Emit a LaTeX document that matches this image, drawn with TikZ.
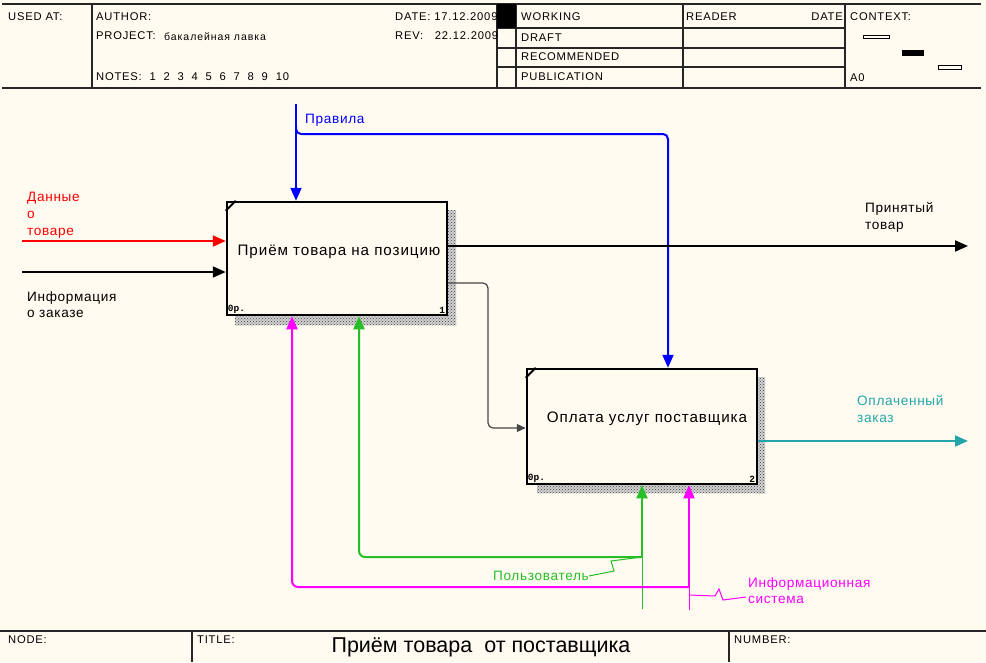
\documentclass[tikz,border=0pt]{standalone}
\usepackage{fontspec}
\setmainfont{Liberation Sans}
\newfontfamily\monofnt{Liberation Mono}
\usetikzlibrary{arrows.meta,patterns}
\definecolor{bg}{RGB}{255,251,240}
\definecolor{cblue}{RGB}{0,0,255}
\definecolor{cred}{RGB}{255,0,0}
\definecolor{cgreen}{RGB}{40,190,40}
\definecolor{cmag}{RGB}{255,0,255}
\definecolor{cteal}{RGB}{35,165,170}
\definecolor{cgray}{RGB}{70,70,70}
\tikzset{
  >={Triangle[length=13pt,width=11pt]},
  frameline/.style={line width=1.3pt, black!85},
  hdr/.style={font=\fontsize{11.2}{13}\selectfont\addfontfeature{LetterSpace=7}, inner sep=0pt, anchor=west},
  actbox/.style={draw, line width=2.5pt, fill=bg, inner sep=0pt},
  acttext/.style={font=\fontsize{15.2}{18}\selectfont\addfontfeature{LetterSpace=6}, inner sep=0pt},
  small/.style={font=\monofnt\fontsize{9.5}{10}\selectfont\bfseries, inner sep=1pt},
  shadow/.style={fill=black!18, postaction={pattern=crosshatch dots, pattern color=black!75}},
  arr/.style={line width=2pt},
  thinarr/.style={line width=1pt},
  lbl/.style={font=\fontsize{13.6}{16.8}\selectfont\addfontfeature{LetterSpace=5}, inner sep=0pt, align=left},
}
\begin{document}
\begin{tikzpicture}[x=1pt,y=-1pt]
\fill[bg] (0,0) rectangle (986,662);
\useasboundingbox (0,0) rectangle (986,662);

% ---------------- header ----------------
\draw[frameline] (2,4) -- (981,4);
\draw[line width=1.8pt, black!85] (2,88) -- (981,88);
\draw[frameline] (92,4) -- (92,88);
\foreach \x in {497,516,683,845} \draw[frameline] (\x,4) -- (\x,88);
\foreach \y in {28,48,67} \draw[frameline] (497,\y) -- (845,\y);

\node[hdr] (usedat) at (8,17) {USED AT:};
\node[hdr] (author) at (96,17) {AUTHOR:};
\node[hdr] (project) at (96,36) {PROJECT:};
\node[hdr, font=\fontsize{10.5}{12}\selectfont\addfontfeature{LetterSpace=9}] (projname) at (164,36.5) {бакалейная лавка};
\node[hdr] (notes) at (96,77) {NOTES:\ \ 1\ \ 2\ \ 3\ \ 4\ \ 5\ \ 6\ \ 7\ \ 8\ \ 9\ \ 10};
\node[hdr] (date) at (395,17) {DATE: 17.12.2009};
\node[hdr] (rev) at (395,36) {REV:\ \ \ 22.12.2009};
\fill[bg] (498,5) rectangle (515,87);
\foreach \y in {28,48,67} \draw[frameline] (497,\y) -- (516,\y);
\fill[black] (497,4) rectangle (516,28);
\node[hdr] (working) at (521,17) {WORKING};
\node[hdr] (draft) at (521,38) {DRAFT};
\node[hdr] (recom) at (521,57) {RECOMMENDED};
\node[hdr] (publ) at (521,77) {PUBLICATION};
\node[hdr] (reader) at (686,17) {READER};
\node[hdr, anchor=east] (rdate) at (843,17) {DATE};
\node[hdr] (context) at (850,17) {CONTEXT:};
\node[hdr] (a0) at (850,78) {A0};
\draw[line width=0.9pt, fill=bg] (863,35) rectangle (889,38.5);
\fill[black] (902,50) rectangle (924,56);
\draw[line width=0.9pt, fill=bg] (938,65) rectangle (961,69.5);

% ---------------- footer ----------------
\draw[line width=1.8pt, black!85] (0,631) -- (986,631);
\draw[frameline] (192,631) -- (192,662);
\draw[frameline] (729,631) -- (729,662);
\node[hdr] (node) at (8,640) {NODE:};
\node[hdr] (title) at (197,640) {TITLE:};
\node[hdr] (number) at (734,640) {NUMBER:};
\node[font=\fontsize{21.5}{24}\selectfont, inner sep=0pt] (ttl) at (481,647) {Приём товара~ от поставщика};

% ---------------- shadows ----------------
\fill[shadow] (447,210) rectangle (456,325);
\fill[shadow] (235,315) rectangle (456,325);
\fill[shadow] (757,377) rectangle (765,493);
\fill[shadow] (537,484) rectangle (765,493);

% ---------------- activity boxes ----------------
\node[actbox, minimum width=220pt, minimum height=113pt] (b1) at (337,258.5) {};
\node[actbox, minimum width=230pt, minimum height=115pt] (b2) at (642,426.5) {};
\node[acttext] (t1) at ([yshift=6.5pt,xshift=2pt]b1.center) {Приём товара на позицию};
\node[acttext] (t2) at ([yshift=7.5pt,xshift=5pt]b2.center) {Оплата услуг поставщика};
\node[small, anchor=south west] (c1) at ([shift={(1pt,1.5pt)}]b1.south west) {0р.};
\node[small, anchor=south east] (n1) at ([shift={(-2pt,1.5pt)}]b1.south east) {1};
\node[small, anchor=south west] (c2) at ([shift={(1pt,1.5pt)}]b2.south west) {0р.};
\node[small, anchor=south east] (n2) at ([shift={(-2pt,1.5pt)}]b2.south east) {2};
\draw[line width=1.8pt] ([yshift=-10pt]b1.north west) -- ([xshift=10pt]b1.north west);
\draw[line width=1.8pt] ([yshift=-10pt]b2.north west) -- ([xshift=10pt]b2.north west);

% ---------------- controls (blue) ----------------
\coordinate (prtop) at (296,104);
\coordinate (prbr) at (296,126);
\coordinate (prc) at (668,134);
\draw[arr, cblue, ->] (prtop) -- (prtop |- b1.north);
\draw[arr, cblue, ->, rounded corners=5pt] (prbr) |- (prc) -- (prc |- b2.north);
\node[lbl, text=cblue, anchor=west] (lpr) at (305,120) {Правила};

% ---------------- inputs ----------------
\coordinate (redin) at (22,241);
\coordinate (blkin) at (22,272);
\draw[arr, cred, ->] (redin) -- (redin -| b1.west);
\draw[arr, black, ->] (blkin) -- (blkin -| b1.west);
\node[lbl, text=cred, anchor=north west] (lred) at (27,192) {Данные\\о\\товаре};
\node[lbl, anchor=north west] (linf) at (27,291) {Информация\\о заказе};

% ---------------- outputs ----------------
\coordinate (out1) at (968,246);
\draw[arr, black, ->] (out1 -| b1.east) -- (out1);
\node[lbl, anchor=north west] (lout1) at (865,202) {Принятый\\товар};
\coordinate (out2) at (968,441);
\draw[arr, cteal, ->] (out2 -| b2.east) -- (out2);
\node[lbl, text=cteal, anchor=north west] (lout2) at (857,395) {Оплаченный\\заказ};

% box1 -> box2
\coordinate (mid1) at (488,283);
\coordinate (mid2) at (488,428);
\draw[line width=1.2pt, cgray, -{Triangle[length=9pt,width=8pt]}, rounded corners=5pt]
  (mid1 -| b1.east) -- (mid1) -- (mid2) -- (mid2 -| b2.west);

% ---------------- mechanisms ----------------
\coordinate (gj) at (642,557);
\coordinate (gbot) at (642,609);
\coordinate (gx) at (359,557);
\draw[thinarr, cgreen] (gbot) -- (gj);
\draw[arr, cgreen, ->] (gj) -- (gj |- b2.south);
\draw[arr, cgreen, ->, rounded corners=6pt] (gj) -- (gx) -- (gx |- b1.south);
\node[lbl, text=cgreen, anchor=east] (lusr) at (589,576) {Пользователь};
\draw[thinarr, cgreen] (lusr.east) -- (614,571) -- (611,561) -- (gj);

\coordinate (mj) at (689,587);
\coordinate (mbot) at (689,610);
\coordinate (mx) at (292,587);
\draw[thinarr, cmag] (mbot) -- (mj);
\draw[arr, cmag, ->] (mj) -- (mj |- b2.south);
\draw[arr, cmag, ->, rounded corners=6pt] (mj) -- (mx) -- (mx |- b1.south);
\node[lbl, text=cmag, anchor=north west] (lis) at (748,577) {Информационная\\система};
\coordinate (mz) at (689,595);
\draw[thinarr, cmag] (mz) -- (715,596) -- (719,589) -- (723,600) -- (746,597);
\end{tikzpicture}
\end{document}
